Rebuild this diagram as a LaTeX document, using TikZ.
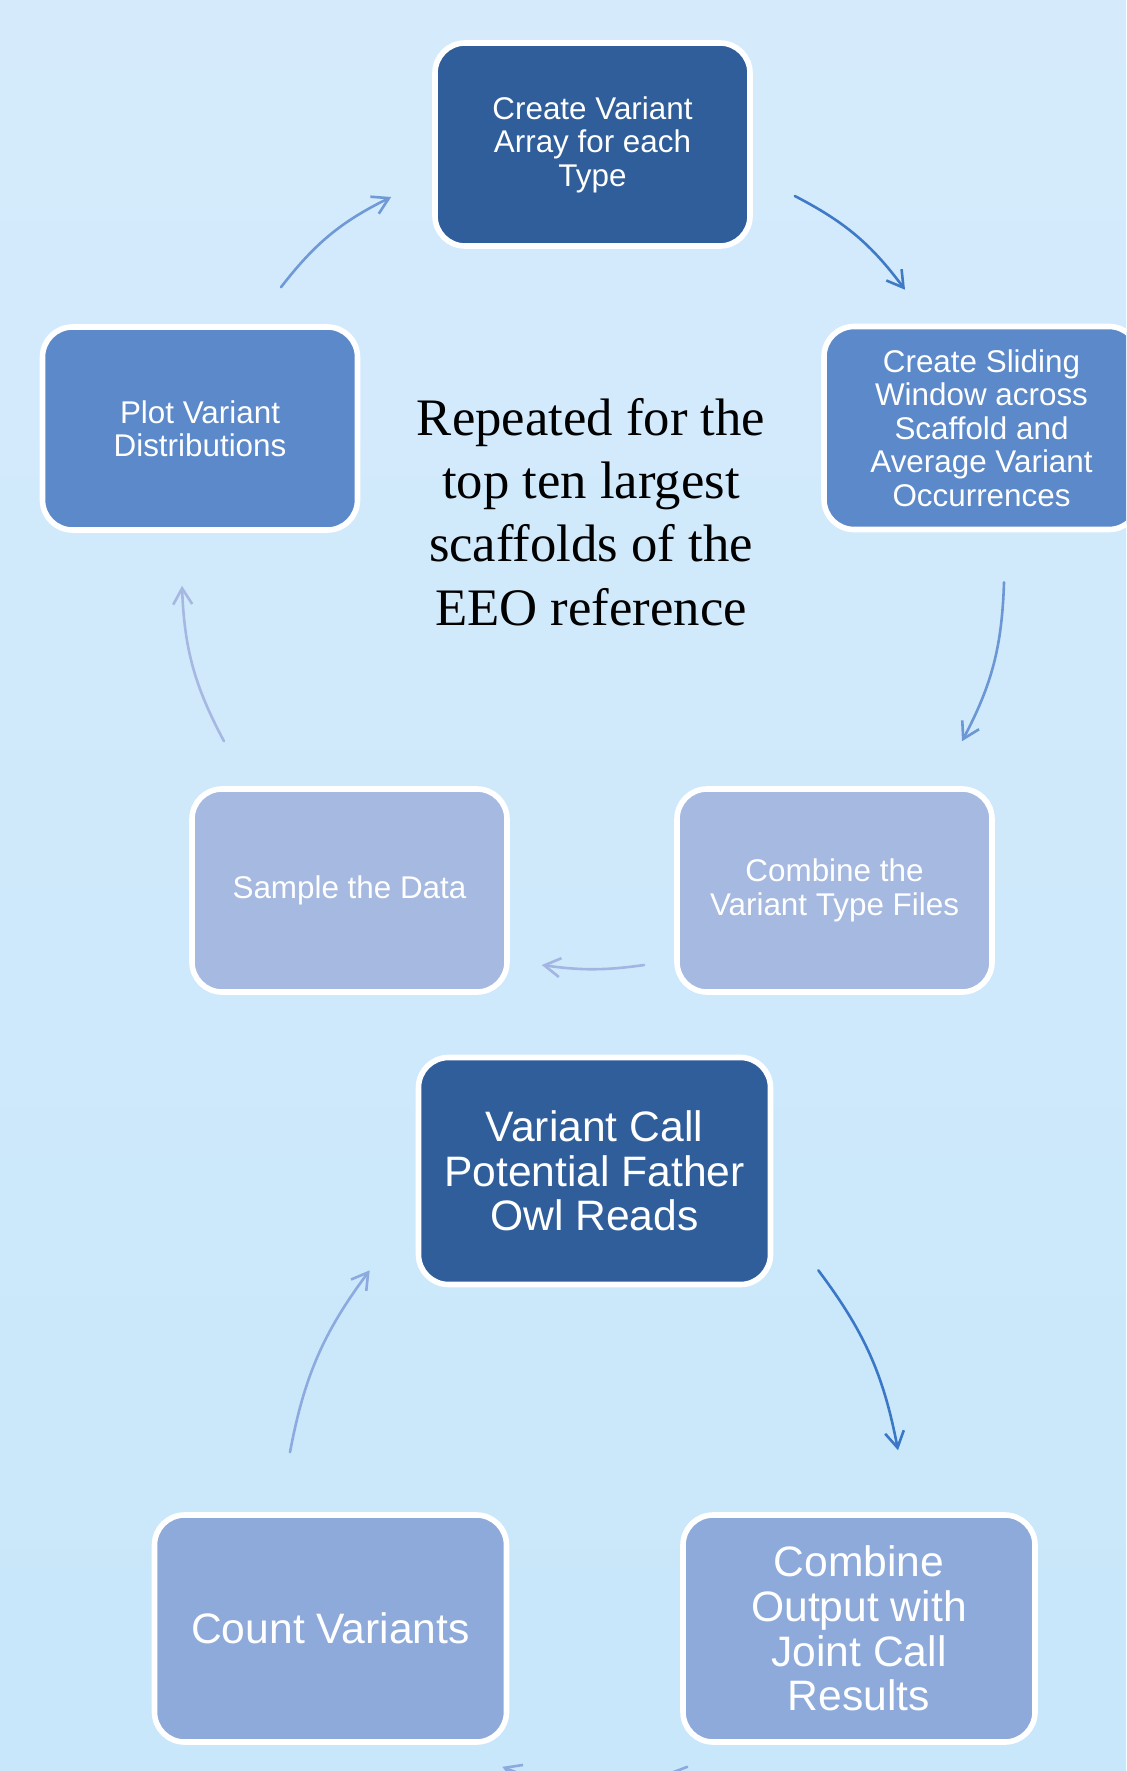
\documentclass[tikz,border=0pt]{standalone}
\usepackage{fontspec}
\setmainfont{Liberation Serif}
\setsansfont{Liberation Sans}
\usetikzlibrary{arrows.meta}
\definecolor{bgtop}{HTML}{D5EBFC}
\definecolor{bgbot}{HTML}{C8E7FA}
\definecolor{boxdark}{HTML}{2F5E9A}
\definecolor{boxmid}{HTML}{5C89C9}
\definecolor{boxlight}{HTML}{A6B9E0}
\definecolor{boxbot}{HTML}{8DAADB}
\definecolor{arrB}{HTML}{3F7AC6}
\definecolor{arrA}{HTML}{6F9AD6}
\definecolor{arrC}{HTML}{6B97D5}
\definecolor{arrD}{HTML}{A3B5E1}
\definecolor{arrE}{HTML}{A6B8E2}
\definecolor{arrF}{HTML}{3A77C7}
\definecolor{arrG}{HTML}{8CAADF}
\tikzset{
  stepsmall/.style={draw=white, line width=2.8pt, rounded corners=15pt,
    minimum width=157.5pt, minimum height=101.5pt, inner sep=2pt,
    text=white, align=center, font=\sffamily\fontsize{15.7}{16.7}\selectfont},
  stepbig/.style={draw=white, line width=2.8pt, rounded corners=15pt,
    minimum width=176pt, minimum height=113.5pt, inner sep=2pt,
    text=white, align=center, font=\sffamily\fontsize{21.3}{22.3}\selectfont},
  arr/.style={line width=1.3pt, -{Straight Barb[length=8pt,width=9.5pt]}, line cap=round},
}
\begin{document}
\begin{tikzpicture}[x=0.5pt,y=-0.5pt]
\useasboundingbox (0,0) rectangle (1126,1771);
\clip (0,0) rectangle (1126,1771);
\shade[top color=bgtop, bottom color=bgbot] (0,0) rectangle (1126,1771);

% top cycle
\node[stepsmall, fill=boxdark] (n1) at (592.5,144.5) {Create Variant\\Array for each\\Type};
\node[stepsmall, fill=boxmid] (n2) at (981.5,428) {Create Sliding\\Window across\\Scaffold and\\Average Variant\\Occurrences};
\node[stepsmall, fill=boxmid] (n3) at (200,428.5) {Plot Variant\\Distributions};
\node[stepsmall, fill=boxlight] (n4) at (834.5,890.5) {Combine the\\Variant Type Files};
\node[stepsmall, fill=boxlight] (n5) at (349.5,890.5) {Sample the Data};

\node[font=\fontsize{26.35}{31.65}\selectfont, align=center, text=black] (rep) at (591,512)
  {Repeated for the\\top ten largest\\scaffolds of the\\EEO reference};

% bottom cycle
\node[stepbig, fill=boxdark] (n6) at (594.5,1171) {Variant Call\\Potential Father\\Owl Reads};
\node[stepbig, fill=boxbot] (n7) at (859,1628.5) {Combine\\Output with\\Joint Call\\Results};
\node[stepbig, fill=boxbot] (n8) at (330.5,1628.5) {Count Variants};

% arrows
\draw[arr, arrA] ([shift={(81,-37)}]n3.north) to[bend left=13] ([shift={(-41,52.5)}]n1.west);
\draw[arr, arrB] ([shift={(42,51.5)}]n1.east) to[bend left=13] ([shift={(-76.5,-34)}]n2.north);
\draw[arr, arrC] ([shift={(22.5,50)}]n2.south) to[bend left=13] ([shift={(127.5,-45)}]n4.north);
\draw[arr, arrD] ([shift={(-30,74.5)}]n4.west) to[bend left=8] ([shift={(32,74.5)}]n5.east);
\draw[arr, arrE] ([shift={(-125.5,-45)}]n5.north) to[bend left=13] ([shift={(-18,53)}]n3.south);
\draw[arr, arrF] ([shift={(45,-17)}]n6.south east) to[bend left=13] ([shift={(39,-62)}]n7.north);
\draw[arr, arrG] ([shift={(-40.5,-60)}]n8.north) to[bend left=13] ([shift={(-46,-17)}]n6.south west);
\draw[arr, arrG] ([shift={(7,22)}]n7.south west) to[bend left=22] ([shift={(-7,22)}]n8.south east);
\end{tikzpicture}
\end{document}
